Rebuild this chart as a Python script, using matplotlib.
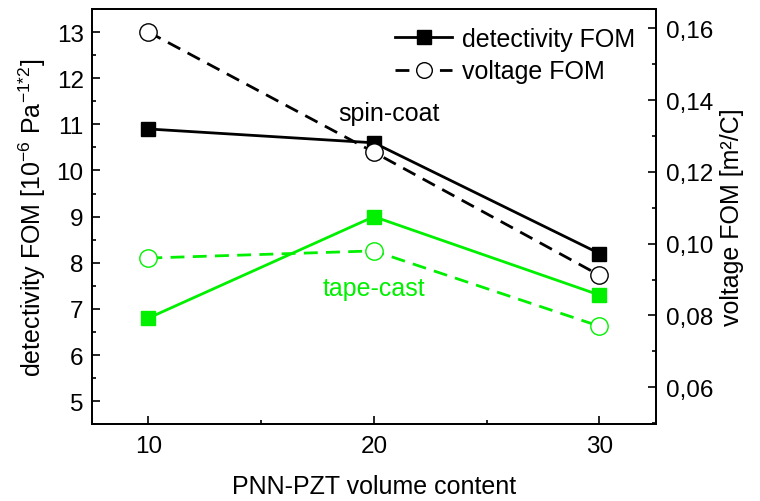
import matplotlib
matplotlib.use('Agg')
import matplotlib.pyplot as plt
from matplotlib.ticker import MultipleLocator, FuncFormatter

plt.rcParams['font.family'] = ['Liberation Sans', 'DejaVu Sans']
plt.rcParams['mathtext.fontset'] = 'custom'
plt.rcParams['mathtext.rm'] = 'Liberation Sans'
plt.rcParams['mathtext.default'] = 'regular'

# data
content = [10, 20, 30]
det_spin = [10.9, 10.6, 8.2]
volt_spin = [0.159, 0.1255, 0.0912]
det_tape = [6.8, 9.0, 7.3]
volt_tape = [0.096, 0.098, 0.077]

GREEN = '#00f000'
TICK_FS = 17.5
LABEL_FS = 18

fig = plt.figure(figsize=(7.6, 5.02), dpi=100)
ax = fig.add_axes([0.121, 0.153, 0.742, 0.827])
ax2 = ax.twinx()

# detectivity (left axis)
ax.plot(content, det_spin, color='black', lw=2, marker='s', ms=10.5,
        mfc='black', mec='black', zorder=3, label='detectivity FOM')
ax.plot(content, det_tape, color=GREEN, lw=2, marker='s', ms=10.5,
        mfc=GREEN, mec=GREEN, zorder=3)

# voltage (right axis)
ax2.plot(content, volt_spin, color='black', lw=2, ls=(0, (5, 3)), marker='o', ms=12.5,
         mfc='white', mec='black', mew=1.0, zorder=4, label='voltage FOM')
ax2.plot(content, volt_tape, color=GREEN, lw=2, ls=(0, (5, 3)), marker='o', ms=12.5,
         mfc='white', mec=GREEN, mew=1.0, zorder=4)

ax.set_xlim(7.5, 32.5)
ax.set_ylim(4.5, 13.5)
ax2.set_ylim(0.0497, 0.1654)

ax.xaxis.set_major_locator(MultipleLocator(10))
ax.xaxis.set_minor_locator(MultipleLocator(5))
ax.yaxis.set_major_locator(MultipleLocator(1))
ax.yaxis.set_minor_locator(MultipleLocator(0.5))
ax2.yaxis.set_major_locator(MultipleLocator(0.02))
ax2.yaxis.set_minor_locator(MultipleLocator(0.01))
ax2.yaxis.set_major_formatter(FuncFormatter(lambda v, p: f"{v:.2f}".replace('.', ',')))

ax.tick_params(axis='both', which='major', direction='in', length=6, width=1.2,
               labelsize=TICK_FS, top=False)
ax.tick_params(axis='both', which='minor', direction='in', length=3, width=1.2, top=False)
ax.tick_params(axis='x', pad=8)
ax.tick_params(axis='y', pad=6)
ax2.tick_params(axis='y', which='major', direction='in', length=6, width=1.2,
                labelsize=TICK_FS, pad=7)
ax2.tick_params(axis='y', which='minor', direction='in', length=3, width=1.2)

for a in (ax, ax2):
    for s in a.spines.values():
        s.set_linewidth(1.3)

ax.set_xlabel('PNN-PZT volume content', fontsize=LABEL_FS, labelpad=12)
ax.set_ylabel(r'detectivity FOM [10$^{\mathrm{-6}}$ Pa$^{\mathrm{-1{*}2}}$]', fontsize=LABEL_FS,
              labelpad=6)
ax2.set_ylabel('voltage FOM [m²/C]', fontsize=LABEL_FS, labelpad=5)

ax.text(20.65, 11.09, 'spin-coat', fontsize=LABEL_FS, ha='center', va='baseline', color='black')
ax.text(20.0, 7.30, 'tape-cast', fontsize=LABEL_FS, ha='center', va='baseline', color=GREEN)

h1, l1 = ax.get_legend_handles_labels()
h2, l2 = ax2.get_legend_handles_labels()
ax2.legend(h1 + h2, l1 + l2, loc='upper right', bbox_to_anchor=(0.995, 1.0),
           frameon=False, fontsize=LABEL_FS, handlelength=2.3, markerscale=0.9,
           labelspacing=0.35, handletextpad=0.4, borderaxespad=0.3)

plt.savefig('out.png', dpi=100)
